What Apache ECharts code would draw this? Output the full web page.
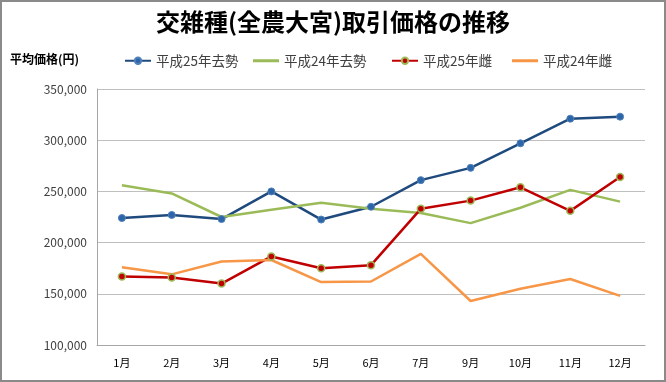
<!DOCTYPE html>
<html>
<head>
<meta charset="utf-8">
<script src="https://cdn.jsdelivr.net/npm/echarts@6/dist/echarts.min.js"></script>
<style>
html,body{margin:0;padding:0;background:#fff;}
#c{width:666px;height:382px;box-sizing:border-box;border:2px solid #8a8a8a;}
</style>
</head>
<body>
<div id="c"></div>
<script>
const categories = ['1月','2月','3月','4月','5月','6月','7月','9月','10月','11月','12月'];
const seriesNames = ['平成25年去勢','平成24年去勢','平成25年雌','平成24年雌'];
const h25Kyosei = [224000,227000,223000,250000,222500,235000,261000,273000,297000,321000,323000];
const h24Kyosei = [256000,248000,225000,232000,239000,233000,229000,219000,234000,251500,240000];
const h25Mesu = [167000,166000,160000,186500,175000,178000,233000,241000,254000,231000,264000];
const h24Mesu = [176000,169000,181500,183000,161500,162000,189000,143000,155000,164500,148000];
const yTicks = {min:100000,max:350000,interval:50000};

const font = '"Noto Sans CJK JP","Noto Sans",sans-serif';
const lineIcon = 'path://M0,0H26V3H0Z';
const legendLeft = [122, 251, 389, 510];
const legends = seriesNames.map((n,i)=>({
  left:legendLeft[i], top:52, padding:0, itemWidth:26, itemHeight:8,
  textStyle:{fontFamily:font,fontSize:13.5,color:'#404040'},
  data:[(i===1||i===3)?{name:n,icon:lineIcon}:{name:n}]
}));
const chart = echarts.init(document.getElementById('c'));
chart.setOption({
  animation:false,
  title:{text:'交雑種(全農大宮)取引価格の推移',left:'center',top:3,
    textStyle:{fontFamily:font,fontSize:24,fontWeight:'bold',color:'#000'}},
  graphic:[{type:'text',left:8,top:51,style:{text:'平均価格(円)',font:'bold 12px '+font,fill:'#000'}}],
  legend:legends,
  grid:{left:95,right:19,top:87,bottom:35},
  xAxis:{type:'category',data:categories,boundaryGap:true,
    axisLine:{lineStyle:{color:'#a6a6a6'}},axisTick:{show:false},
    axisLabel:{fontFamily:font,fontSize:11,color:'#000',margin:12}},
  yAxis:{type:'value',min:yTicks.min,max:yTicks.max,interval:yTicks.interval,
    axisLine:{show:true,lineStyle:{color:'#a6a6a6'}},axisTick:{show:false},
    splitLine:{lineStyle:{color:'#bfbfbf',width:1}},
    axisLabel:{fontFamily:font,fontSize:12,color:'#404040',margin:10,
      formatter:v=>v.toLocaleString('en-US')}},
  series:[
    {name:seriesNames[0],type:'line',data:h25Kyosei,symbol:'circle',symbolSize:7,
      lineStyle:{color:'#1f4a7e',width:2.5},
      itemStyle:{color:'#2e65a6',borderColor:'#4f81bd',borderWidth:1}},
    {name:seriesNames[1],type:'line',data:h24Kyosei,symbol:'none',
      lineStyle:{color:'#9bbb59',width:2.5},itemStyle:{color:'#9bbb59'}},
    {name:seriesNames[2],type:'line',data:h25Mesu,symbol:'circle',symbolSize:7,
      lineStyle:{color:'#c00000',width:2.5},
      itemStyle:{color:'#c00000',borderColor:'#9bbb59',borderWidth:1.5}},
    {name:seriesNames[3],type:'line',data:h24Mesu,symbol:'none',
      lineStyle:{color:'#f79646',width:2.5},itemStyle:{color:'#f79646'}}
  ]
});
</script>
</body>
</html>
